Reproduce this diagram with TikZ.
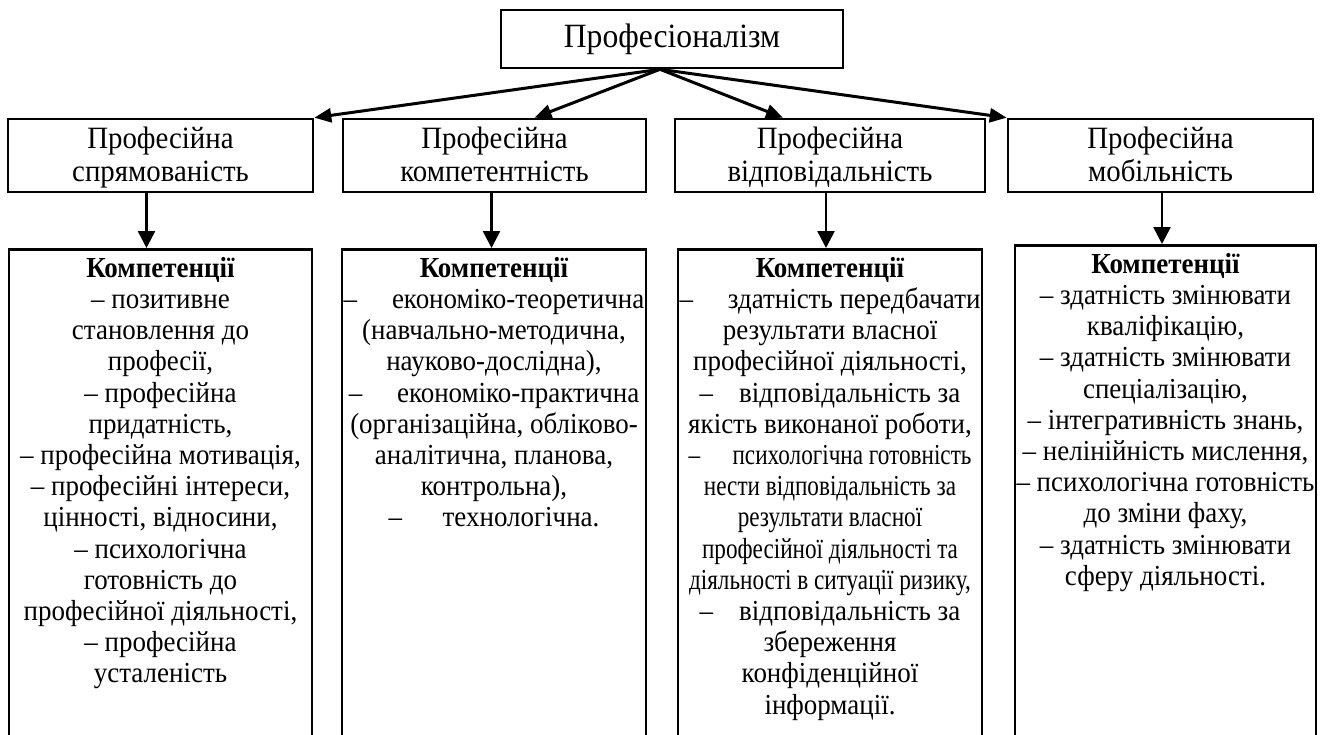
\documentclass[tikz,border=0pt]{standalone}
\usepackage{fontspec}
\setmainfont{Liberation Serif}[FakeStretch=0.93]
\usepackage{graphicx}
\usetikzlibrary{arrows.meta}
\newcommand{\cnd}[1]{\scalebox{0.86}[1]{#1}}
\begin{document}
\begin{tikzpicture}[x=1pt,y=-1pt,
 box/.style={draw,line width=2.6pt,inner sep=0pt},
 topbox/.style={box,minimum width=342pt,minimum height=58pt,font=\fontsize{34}{38}\selectfont},
 midbox/.style={box,minimum width=305pt,minimum height=73pt},
 midtext/.style={align=center,inner sep=0pt,font=\fontsize{31}{32.5}\selectfont},
 lowbox/.style={box,minimum width=304pt,minimum height=520pt,anchor=north},
 lowtext/.style={anchor=north,align=center,inner sep=0pt,font=\fontsize{29}{31.2}\selectfont},
 arr/.style={line width=3pt,-{Triangle[length=17pt,width=14pt]}},
 varr/.style={line width=2.6pt,-{Triangle[length=17pt,width=17pt]}}]
\useasboundingbox (0,0) rectangle (1320,734);
\clip (0,0) rectangle (1320,734);

\node[topbox] (top) at (672,39) {\raisebox{-3pt}{Професіоналізм}};
\node[midbox] (m1) at (160.5,155.5) {};
\node[midbox,minimum width=303pt] (m2) at (494.5,155.5) {};
\node[midbox,minimum width=310pt] (m3) at (830,155.5) {};
\node[midbox] (m4) at (1160.5,155.5) {};
\node[midtext] (n1) at ([yshift=-3pt]m1.center) {\strut Професійна\\\strut спрямованість};
\node[midtext] (n2) at ([yshift=-3pt]m2.center) {\strut Професійна\\\strut компетентність};
\node[midtext] (n3) at ([yshift=-3pt]m3.center) {\strut Професійна\\\strut відповідальність};
\node[midtext] (n4) at ([yshift=-3pt]m4.center) {\strut Професійна\\\strut мобільність};

\node[lowbox,minimum width=303pt] (l1) at (160.5,248) {};
\node[lowbox] (l2) at (494,248) {};
\node[lowbox] (l3) at (830,248) {};
\node[lowbox,minimum width=301pt] (l4) at (1165.5,244) {};

\node[lowtext] (t1) at ([yshift=-9pt]l1.north) {\textbf{Компетенції}\\
– позитивне\\
становлення до\\
професії,\\
– професійна\\
придатність,\\
– професійна мотивація,\\
– професійні інтереси,\\
цінності, відносини,\\
– психологічна\\
готовність до\\
професійної діяльності,\\
– професійна\\
усталеність};

\node[lowtext] (t2) at ([yshift=-9pt]l2.north) {\textbf{Компетенції}\\
–\hspace{1.2em}економіко-теоретична\\
(навчально-методична,\\
науково-дослідна),\\
–\hspace{1.2em}економіко-практична\\
(організаційна, обліково-\\
аналітична, планова,\\
контрольна),\\
–\hspace{1.4em}технологічна.};

\node[lowtext] (t3) at ([yshift=-9pt]l3.north) {\textbf{Компетенції}\\
–\hspace{1.2em}здатність передбачати\\
результати власної\\
професійної діяльності,\\
–\hspace{0.9em}відповідальність за\\
якість виконаної роботи,\\
\cnd{–\hspace{1.3em}психологічна готовність}\\
\cnd{нести відповідальність за}\\
\cnd{результати власної}\\
\cnd{професійної діяльності та}\\
\cnd{діяльності в ситуації ризику,}\\
–\hspace{0.9em}відповідальність за\\
збереження\\
конфіденційної\\
інформації.};

\node[lowtext] (t4) at ([yshift=-9pt]l4.north) {\textbf{Компетенції}\\
– здатність змінювати\\
кваліфікацію,\\
– здатність змінювати\\
спеціалізацію,\\
– інтегративність знань,\\
– нелінійність мислення,\\
– психологічна готовність\\
до зміни фаху,\\
– здатність змінювати\\
сферу діяльності.};

\coordinate (o) at ([xshift=-12pt]top.south);
\draw[arr] (o) -- (m1.north east);
\draw[arr] (o) -- ([xshift=40pt]m2.north);
\draw[arr] (o) -- ([xshift=-47pt]m3.north);
\draw[arr] (o) -- (m4.north west);

\draw[varr] ([xshift=-14pt]m1.south) -- ([xshift=-14pt]m1.south |- l1.north);
\draw[varr] ([xshift=-3pt]m2.south) -- ([xshift=-3pt]m2.south |- l2.north);
\draw[varr] ([xshift=-4pt]m3.south) -- ([xshift=-4pt]m3.south |- l3.north);
\draw[varr] ([xshift=1.5pt]m4.south) -- ([xshift=1.5pt]m4.south |- l4.north);
\end{tikzpicture}
\end{document}
